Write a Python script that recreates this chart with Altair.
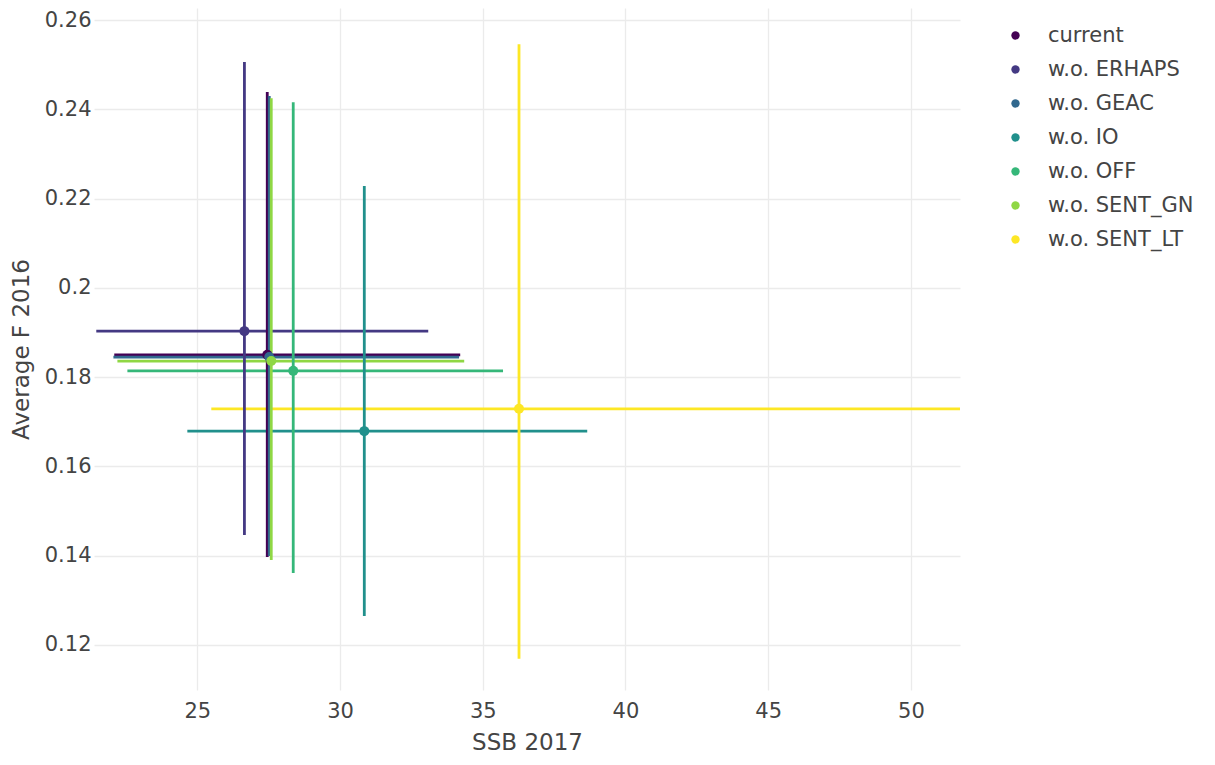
import altair as alt
import pandas as pd

series = ["current", "w.o. ERHAPS", "w.o. GEAC", "w.o. IO", "w.o. OFF", "w.o. SENT_GN", "w.o. SENT_LT"]
colors = ["#440154", "#443983", "#31688E", "#21908C", "#35B779", "#8FD744", "#FDE725"]

ssb = [27.45, 26.65, 27.52, 30.85, 28.36, 27.59, 36.27]
ssb_lo = [22.09, 21.46, 22.06, 24.65, 22.55, 22.20, 25.49]
ssb_hi = [34.21, 33.09, 34.17, 38.66, 35.71, 34.35, 51.90]

fbar = [0.1850, 0.1903, 0.1845, 0.1679, 0.1814, 0.1836, 0.1729]
fbar_lo = [0.1397, 0.1446, 0.1399, 0.1265, 0.1361, 0.1390, 0.1169]
fbar_hi = [0.2439, 0.2506, 0.2430, 0.2228, 0.2416, 0.2425, 0.2546]

df = pd.DataFrame({
    "series": series, "ssb": ssb, "ssb_lo": ssb_lo, "ssb_hi": ssb_hi,
    "fbar": fbar, "fbar_lo": fbar_lo, "fbar_hi": fbar_hi,
})

font = "DejaVu Sans"
txt = "#444444"

xscale = alt.Scale(domain=[21.38, 51.72], nice=False, zero=False)
yscale = alt.Scale(domain=[0.1099, 0.2627], nice=False, zero=False)
color = alt.Color(
    "series:N",
    scale=alt.Scale(domain=series, range=colors),
    legend=alt.Legend(
        title=None, orient="none", legendX=911, legendY=17,
        symbolType="circle", symbolSize=70, symbolStrokeWidth=0,
        labelFontSize=21, labelFont=font, labelColor=txt,
        rowPadding=12, labelOffset=22,
    ),
)

xax = alt.Axis(values=[25, 30, 35, 40, 45, 50], title="SSB 2017", grid=True, gridColor="#ebebeb",
               gridWidth=1.3, domain=False, ticks=False, labelFontSize=21, labelFont=font,
               labelColor=txt, titleFontSize=23, titleFont=font, titleColor=txt,
               titleFontWeight="normal", labelPadding=10, titlePadding=10)
yax = alt.Axis(values=[0.12, 0.14, 0.16, 0.18, 0.2, 0.22, 0.24, 0.26], format=".2~f",
               title="Average F 2016", grid=True, gridColor="#ebebeb", gridWidth=1.3,
               domain=False, ticks=False, labelFontSize=21, labelFont=font, labelColor=txt,
               titleFontSize=23, titleFont=font, titleColor=txt, titleFontWeight="normal",
               labelPadding=3, titlePadding=11)

base = alt.Chart(df)

hbars = base.mark_rule(strokeWidth=2.8, clip=True).encode(
    x=alt.X("ssb_lo:Q", scale=xscale, axis=xax),
    x2="ssb_hi:Q",
    y=alt.Y("fbar:Q", scale=yscale, axis=yax),
    color=color,
)
vbars = base.mark_rule(strokeWidth=2.8, clip=True).encode(
    x=alt.X("ssb:Q", scale=xscale),
    y=alt.Y("fbar_lo:Q", scale=yscale),
    y2="fbar_hi:Q",
    color=color,
)
pts = base.mark_circle(size=100, opacity=1, clip=True).encode(
    x=alt.X("ssb:Q", scale=xscale),
    y=alt.Y("fbar:Q", scale=yscale),
    color=color,
)

chart = alt.layer(hbars, vbars, pts).properties(
    width=866, height=682,
    background="white",
    autosize=alt.AutoSizeParams(type="none"),
    padding={"left": 86, "top": 0, "right": 247, "bottom": 67},
).configure_view(stroke=None, strokeWidth=0)

chart.save("out.html", embed_options={"renderer": "svg", "actions": False})
